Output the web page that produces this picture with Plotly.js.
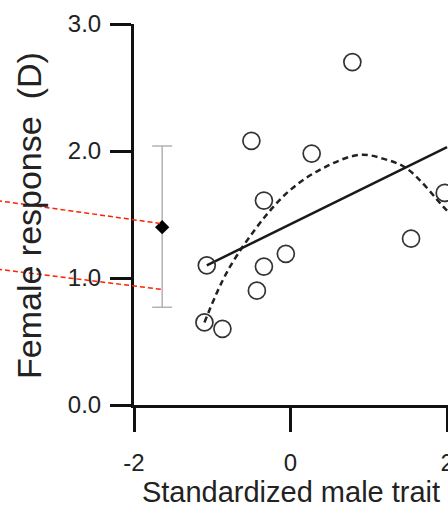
<!DOCTYPE html>
<html>
<head>
<meta charset="utf-8">
<script src="https://cdn.plot.ly/plotly-3.0.1.min.js"></script>
<style>html,body{margin:0;padding:0;background:#fff;}#chart{width:448px;height:508px;}</style>
</head>
<body>
<div id="chart"></div>
<script>
// ---- data ----
const pointX = [0.79, -0.50, 0.27, -0.34, -1.07, -0.34, -0.06, -0.43, -1.10, -0.87, 1.54, 1.97];
const pointY = [2.70, 2.08, 1.98, 1.61, 1.10, 1.09, 1.19, 0.90, 0.65, 0.60, 1.31, 1.67];

const linearX = [-1.07, 2.0];
const linearY = [1.10, 2.03];

const quadX = [-1.10, -0.80, -0.33, 0.01, 0.43, 0.88, 1.18, 1.49, 1.94, 2.0];
const quadY = [0.65, 1.06, 1.48, 1.70, 1.87, 1.97, 1.94, 1.86, 1.57, 1.53];

const meanX = [-1.64];
const meanY = [1.40];
const errPlus = [0.64];
const errMinus = [0.63];

const red1X = [-3.75, -1.67];
const red1Y = [1.61, 1.43];
const red2X = [-3.75, -1.64];
const red2Y = [1.07, 0.91];

const xTickVals = [-2, 0, 2];
const xTickText = ['-2', '0', '2'];
const yTickVals = [0, 1, 2, 3];
const yTickText = ['0.0', '1.0', '2.0', '3.0'];

const xTitle = 'Standardized male trait';
const yTitle = 'Female response\u2002(D)';

// ---- layout geometry ----
const W = 448, H = 508;
const xRange = [-2, 2.012];
const yRange = [0, 3];
const xDom = [134 / W, 1];
const yDom = [(H - 405) / H, (H - 24) / H];

// full-figure overlay axes sharing the same scale (for the annotation lines that run into the margin)
function extend(r, d) {
  const per = (r[1] - r[0]) / (d[1] - d[0]);
  return [r[0] - d[0] * per, r[1] + (1 - d[1]) * per];
}
const x2Range = extend(xRange, xDom);
const y2Range = extend(yRange, yDom);

const FONT = 'Liberation Sans, Arial, Helvetica, sans-serif';

const traces = [
  {
    x: quadX, y: quadY, type: 'scatter', mode: 'lines',
    line: {color: '#222', width: 2.5, dash: '6px,4px', shape: 'spline', smoothing: 1},
    hoverinfo: 'skip', showlegend: false
  },
  {
    x: linearX, y: linearY, type: 'scatter', mode: 'lines',
    line: {color: '#1a1a1a', width: 2.5},
    hoverinfo: 'skip', showlegend: false
  },
  {
    x: pointX, y: pointY, type: 'scatter', mode: 'markers',
    marker: {symbol: 'circle-open', size: 17, color: '#333', line: {width: 1.7, color: '#333'}},
    showlegend: false
  },
  {
    x: meanX, y: meanY, type: 'scatter', mode: 'markers',
    marker: {symbol: 'diamond', size: 11, color: '#000'},
    error_y: {type: 'data', symmetric: false, array: errPlus, arrayminus: errMinus,
              color: '#b3b3b3', thickness: 1.5, width: 10},
    showlegend: false
  },
  {
    x: red1X, y: red1Y, xaxis: 'x2', yaxis: 'y2', type: 'scatter', mode: 'lines',
    line: {color: '#ff2200', width: 1.5, dash: '5px,3px'}, hoverinfo: 'skip', showlegend: false
  },
  {
    x: red2X, y: red2Y, xaxis: 'x2', yaxis: 'y2', type: 'scatter', mode: 'lines',
    line: {color: '#ff2200', width: 1.5, dash: '5px,3px'}, hoverinfo: 'skip', showlegend: false
  }
];

const layout = {
  width: W, height: H,
  margin: {l: 0, r: 0, t: 0, b: 0},
  paper_bgcolor: '#fff',
  plot_bgcolor: 'rgba(0,0,0,0)',
  font: {family: FONT, color: '#222'},
  showlegend: false,
  xaxis: {
    domain: xDom, range: xRange, anchor: 'y',
    showgrid: false, zeroline: false,
    showline: true, linecolor: '#111', linewidth: 3,
    ticks: 'outside', ticklen: 24, tickwidth: 3, tickcolor: '#111',
    tickvals: xTickVals, ticktext: xTickText,
    tickfont: {size: 24, color: '#222', family: FONT},
    ticklabelstandoff: 10,
    ticklabeloverflow: 'allow',
    title: {text: xTitle, font: {size: 29, color: '#222', family: FONT}, standoff: 6}
  },
  yaxis: {
    domain: yDom, range: yRange, anchor: 'x',
    showgrid: false, zeroline: false,
    showline: true, linecolor: '#111', linewidth: 3,
    ticks: 'outside', ticklen: 21, tickwidth: 3, tickcolor: '#111',
    tickvals: yTickVals, ticktext: yTickText,
    tickfont: {size: 24, color: '#222', family: FONT},
    ticklabelstandoff: 4
  },
  xaxis2: {domain: [0, 1], range: x2Range, anchor: 'y2', visible: false, fixedrange: true},
  yaxis2: {domain: [0, 1], range: y2Range, anchor: 'x2', visible: false, fixedrange: true},
  annotations: [{
    text: yTitle, textangle: -90, showarrow: false,
    xref: 'paper', yref: 'paper', x: 29 / W, y: 1 - 216 / H,
    xanchor: 'center', yanchor: 'middle',
    font: {size: 34, color: '#222', family: FONT}
  }]
};

Plotly.newPlot('chart', traces, layout, {displayModeBar: false, staticPlot: true});
</script>
</body>
</html>
